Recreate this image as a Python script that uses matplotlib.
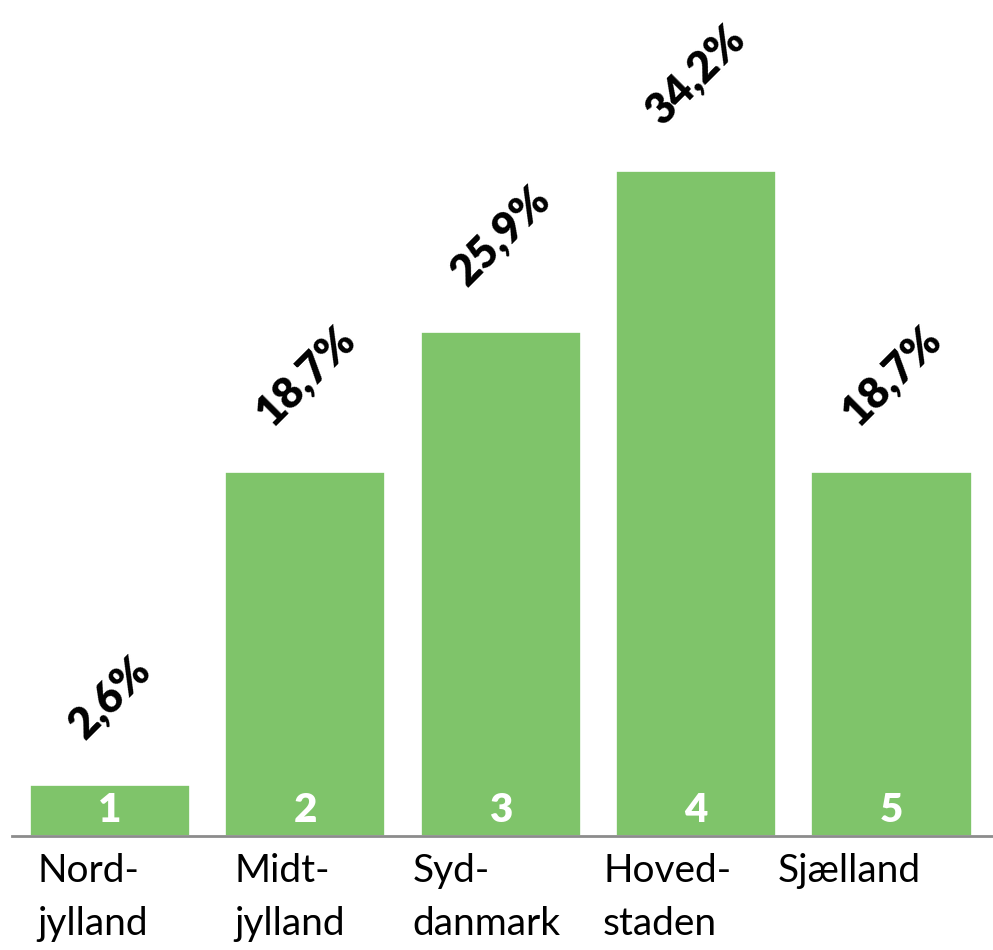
import matplotlib
matplotlib.use("Agg")
import matplotlib.pyplot as plt

regions = ["Nord-\njylland", "Midt-\njylland", "Syd-\ndanmark", "Hoved-\nstaden", "Sjælland"]
numbers = ["1", "2", "3", "4", "5"]
values = [2.6, 18.7, 25.9, 34.2, 18.7]
value_labels = ["2,6%", "18,7%", "25,9%", "34,2%", "18,7%"]
label_shift = [-0.374, -0.363, -0.45, -0.476, -0.583]

plt.rcParams['font.family'] = ['Lato', 'DejaVu Sans']

fig = plt.figure(figsize=(9.93, 9.5), dpi=100)
ax = fig.add_axes([12/993, 114/950, 981/993, 836/950])

x = list(range(len(values)))
bars = ax.bar(x, values, width=0.82, color='#7FC46A', edgecolor='white', linewidth=1.2, zorder=2)

ax.set_xlim(-0.502, 4.52)
ax.set_ylim(0, 43.0)
for s in ['top', 'right', 'left']:
    ax.spines[s].set_visible(False)
ax.spines['bottom'].set_color('#8c8c8c')
ax.spines['bottom'].set_linewidth(2)
ax.set_yticks([])
ax.set_xticks([])

for xi, v, lab in zip(x, values, value_labels):
    ax.annotate(lab, (xi, v), xytext=(0, 29), textcoords='offset points',
                ha='center', va='bottom', rotation=45, fontsize=31,
                fontweight='heavy', color='black', annotation_clip=False)

for xi, n in zip(x, numbers):
    ax.annotate(n, (xi, 0), xytext=(0, 18), textcoords='offset points',
                ha='center', va='center', fontsize=29, fontweight='heavy',
                color='white', zorder=3)

for xi, r, dx in zip(x, regions, label_shift):
    ax.annotate(r, (xi + dx, 0), xytext=(0, -12), textcoords='offset points',
                ha='left', va='top', fontsize=28, color='black',
                linespacing=1.6, multialignment='left', annotation_clip=False)

fig.savefig('out.png', dpi=100)
